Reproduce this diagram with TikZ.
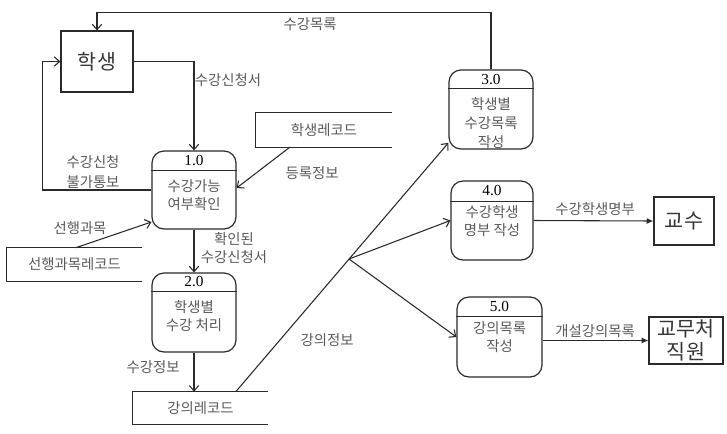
\documentclass[tikz,border=0pt]{standalone}
\usepackage{fontspec}
\setmainfont{Liberation Serif}
\newfontfamily\kr{Noto Sans CJK KR}
\usetikzlibrary{arrows.meta,calc}
\definecolor{txt}{HTML}{5a5a5a}
\definecolor{ln}{HTML}{2a2a2a}
\begin{document}
\begin{tikzpicture}[x=0.75pt,y=-0.75pt,
  proc/.style={draw=ln,line width=0.9pt,rounded corners=9pt,inner sep=0pt},
  hdr/.style={draw=ln,line width=0.9pt},
  ent/.style={draw=ln,line width=0.9pt,inner sep=0pt,align=center,text=txt!60!black,font=\kr\fontsize{15.5}{17.5}\selectfont},
  lbl/.style={font=\kr\fontsize{10.8}{13.5}\selectfont,text=txt,align=center,inner sep=0pt},
  num/.style={font=\fontsize{11.5}{12}\selectfont,inner sep=0pt},
  store/.style={inner sep=0pt,font=\kr\fontsize{10.8}{13}\selectfont,text=txt},
  storeline/.style={draw=ln,line width=0.9pt},
  flow/.style={draw=ln,line width=0.8pt,-{Straight Barb[length=4pt,width=7pt]}},
  flowf/.style={draw=ln,line width=0.8pt,-{Latex[length=5pt,width=4.5pt]}}]
\useasboundingbox[fill=white] (0,0) rectangle (727,433);

% processes
\node[proc,minimum width=63pt,minimum height=58.5pt] (p1) at (194,190) {};
\draw[hdr] ([yshift=-15pt]p1.north west) -- ([yshift=-15pt]p1.north east);
\node[num] (p1n) at (194,161) {1.0};
\node[lbl] (p1t) at (194,195) {수강가능\\여부확인};

\node[proc,minimum width=63pt,minimum height=59.25pt] (p2) at (194,312.5) {};
\draw[hdr] ([yshift=-14.25pt]p2.north west) -- ([yshift=-14.25pt]p2.north east);
\node[num] (p2n) at (194,282) {2.0};
\node[lbl] (p2t) at (194,316) {학생별\\수강 처리};

\node[proc,minimum width=63pt,minimum height=59.25pt] (p3) at (491,109.5) {};
\draw[hdr] ([yshift=-14.25pt]p3.north west) -- ([yshift=-14.25pt]p3.north east);
\node[num] (p3n) at (491,80) {3.0};
\node[lbl,font=\kr\fontsize{10.8}{14}\selectfont] (p3t) at (491,123) {학생별\\수강목록\\작성};

\node[proc,minimum width=61.5pt,minimum height=59.25pt] (p4) at (492,220.5) {};
\draw[hdr] ([yshift=-15.75pt]p4.north west) -- ([yshift=-15.75pt]p4.north east);
\node[num] (p4n) at (492,191) {4.0};
\node[lbl] (p4t) at (492,221) {수강학생\\명부 작성};

\node[proc,minimum width=63.75pt,minimum height=60pt] (p5) at (499.5,337) {};
\draw[hdr] ([yshift=-15pt]p5.north west) -- ([yshift=-15pt]p5.north east);
\node[num] (p5n) at (499.5,307) {5.0};
\node[lbl] (p5t) at (499.5,337) {강의목록\\작성};

% entities
\node[ent,minimum width=54pt,minimum height=45.75pt] (stu) at (97,61.5) {학생};
\node[ent,minimum width=45pt,minimum height=36pt] (prof) at (684,221) {교수};
\node[ent,minimum width=55.5pt,minimum height=35.25pt] (staff) at (686,340.5) {교무처\\직원};

% stores
\node[store,minimum width=102pt,minimum height=25.5pt] (s1) at (324,130) {학생레코드};
\draw[storeline] (s1.north east) -- (s1.north west) -- (s1.south west) -- (s1.south east);
\node[store,minimum width=101.25pt,minimum height=24.75pt] (s2) at (74.5,264.5) {선행과목레코드};
\draw[storeline] (s2.north east) -- (s2.north west) -- (s2.south west) -- (s2.south east);
\node[store,minimum width=101.25pt,minimum height=24pt] (s3) at (200.5,408) {강의레코드};
\draw[storeline] (s3.north east) -- (s3.north west) -- (s3.south west) -- (s3.south east);

% flows
\draw[flow] (p3.north) -- ++(0,-57) -| (stu.north);
\draw[flow] (stu.east) -| (p1.north);
\draw[flow] (p1.west) -- ++(-109,0) |- (stu.west);
\draw[flow] ($(s1.south west)+(34,0)$) -- ([yshift=1.5pt]p1.east);
\draw[flow] ($(s2.north west)+(69,0)$) -- ([yshift=-24pt]p1.west);
\draw[flow] (p1.south) -- (p2.north);
\draw[flow] (p2.south) -- (p2.south |- s3.north);
\coordinate (J) at (349,259);
\draw[flow] ($(s3.north west)+(103,0)$) -- ([yshift=-25pt]p3.west);
\draw[flow] (J) -- (p4.west);
\draw[flow] (J) -- (p5.west);
\draw[flowf] (p4.east) -- (prof.west);
\draw[flowf] (p5.east |- staff.west) -- (staff.west);

% labels
\node[lbl] (l1) at (310,24) {수강목록};
\node[lbl] (l2) at (228,80) {수강신청서};
\node[lbl,font=\kr\fontsize{10.8}{14.5}\selectfont] (l3) at (93,172) {수강신청\\불가통보};
\node[lbl] (l4) at (312,173) {등록정보};
\node[lbl] (l5) at (80,228) {선행과목};
\node[lbl,font=\kr\fontsize{10.8}{13}\selectfont] (l6) at (234,248) {확인된\\수강신청서};
\node[lbl] (l7) at (153,367) {수강정보};
\node[lbl] (l8) at (327,340) {강의정보};
\node[lbl] (l9) at (595,209) {수강학생명부};
\node[lbl] (l10) at (595,331) {개설강의목록};
\end{tikzpicture}
\end{document}
